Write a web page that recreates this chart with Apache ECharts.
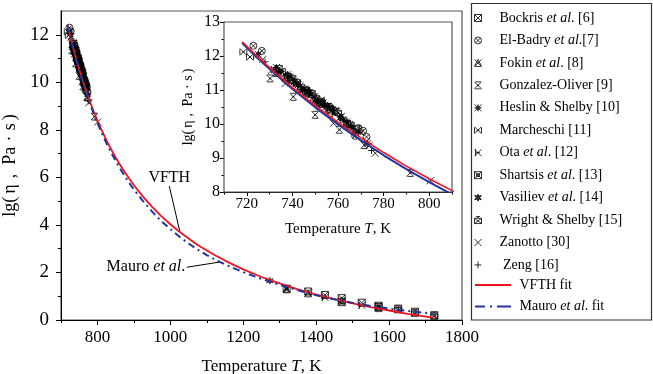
<!DOCTYPE html>
<html><head><meta charset="utf-8">
<script src="https://cdn.jsdelivr.net/npm/echarts@6/dist/echarts.min.js"></script>
<style>html,body{margin:0;padding:0;background:#fff}#c{width:653px;height:374px}</style>
</head><body><div id="c"></div>
<script>
// ---------------- data ----------------
const seriesNames = ['Bockris et al. [6]','El-Badry et al.[7]','Fokin et al. [8]','Gonzalez-Oliver [9]','Heslin & Shelby [10]','Marcheschi [11]','Ota et al. [12]','Shartsis et al. [13]','Vasiliev et al. [14]','Wright & Shelby [15]','Zanotto [30]','Zeng [16]'];
const fitNames = ['VFTH fit','Mauro et al. fit'];

const bockris   = [[734,11.62],[738,11.38],[742,11.2],[746,10.98],[752,10.65],[757,10.4],[764,10.0],[768,9.85],[1378,1.2],[1424,1.05],[1470,0.92],[1525,0.73],[1571,0.6],[1625,0.48],[1671,0.35],[1724,0.2]];
const elBadry   = [[722.9,12.3],[726.6,12.15],[767.5,9.65],[769,9.88],[771,9.8],[772.5,9.62]];
const fokin     = [[733,11.5],[737,11.35],[741,11.25],[743.4,11.12],[746.3,10.92],[749,10.75],[750.5,10.72],[752.9,10.6],[756,10.45],[759,10.4],[761.5,10.22],[764,10.02],[1319,1.29],[1378,1.12],[1470,0.82],[1571,0.5]];
const gonzalez  = [[730.2,11.34],[740.4,10.8],[750,10.27],[760.6,9.83],[771.5,9.38],[791.7,8.56]];
const heslin    = [[725,12.05],[733,11.66],[735,11.55],[738,11.45],[742.5,11.15],[745,11.02],[751,10.68],[753.5,10.62],[757.5,10.42],[761,10.2],[763.7,10.06],[766,9.92],[773,9.42]];
const marcheschi= [[718.5,12.12],[721.4,11.97],[735.5,11.55],[736.5,11.45],[745.5,11.02],[748,10.85],[752.5,10.7],[756,10.48],[762.5,10.1]];
const ota       = [[732,11.6],[734,11.52],[739,11.38],[744.5,11.0],[751.5,10.62],[755,10.52],[758.5,10.3],[765,9.98],[768.5,9.78],[770,9.75],[1424,0.95],[1525,0.62]];
const shartsis  = [[740,11.32],[744,11.05],[748.5,10.88],[753,10.6],[765.5,9.95],[1319,1.32],[1470,0.75],[1571,0.55]];
const vasiliev  = [[742,11.2],[747.5,10.95],[754,10.55],[755.5,10.55],[762,10.15],[1273,1.65]];
const wright    = [[739.5,11.3],[747,10.95],[750.5,10.78],[756.5,10.5],[760,10.35],[1625,0.45],[1671,0.3],[1724,0.18]];
const zanotto   = [[727,11.9],[730.8,11.58],[736.8,11.19],[758,10.02],[773.6,9.36],[776.3,9.14],[800.5,8.33]];
const zeng      = [[728,11.83],[766.8,9.73],[774.7,9.22]];

const fitT  = [718,725,730,740,750,760,770,780,790,800,810,820,830,840,850,862,875,887,900,925,950,975,1000,1025,1050,1075,1100,1125,1150,1175,1200,1250,1300,1350,1400,1450,1500,1550,1600,1650,1720];
const vfthV = [12.42,11.96,11.66,11.07,10.54,10.05,9.59,9.16,8.76,8.39,8.04,7.71,7.40,7.11,6.84,6.53,6.22,5.95,5.67,5.19,4.76,4.37,4.03,3.71,3.43,3.16,2.92,2.70,2.50,2.31,2.13,1.81,1.54,1.29,1.07,0.88,0.70,0.54,0.40,0.26,0.10];
const mauroV= [12.38,11.92,11.62,11.03,10.49,9.99,9.52,9.08,8.67,8.29,7.93,7.59,7.27,6.97,6.69,6.37,6.05,5.77,5.49,5.00,4.56,4.16,3.82,3.50,3.22,2.96,2.73,2.52,2.34,2.17,2.01,1.73,1.48,1.25,1.04,0.87,0.72,0.59,0.48,0.38,0.27];

const xMajorTicks = [800,1000,1200,1400,1600,1800];
const xMinorTicks = [700,900,1100,1300,1500,1700];
const yMajorTicks = [0,2,4,6,8,10,12];
const yMinorTicks = [1,3,5,7,9,11];
const insetXMajor = [720,740,760,780,800];
const insetXMinor = [710,730,750,770,790,810];
const insetYMajor = [8,9,10,11,12,13];
const insetYMinor = [8.5,9.5,10.5,11.5,12.5];

// annotation anchors (data units)
const vfthArrow  = [[997,5.64],[1026,3.72]];
const mauroArrow = [[1045,2.22],[1136,2.44]];

// ---------------- styling ----------------
const FONT = 'Liberation Serif';
const pointSets = [bockris,elBadry,fokin,gonzalez,heslin,marcheschi,ota,shartsis,vasiliev,wright,zanotto,zeng];
const symbols = [
  'path://M0,0H10V10H0Z M0,0L10,10 M10,0L0,10',
  'path://M0,5A5,5 0 1 1 10,5A5,5 0 1 1 0,5Z M1.5,1.5L8.5,8.5 M8.5,1.5L1.5,8.5',
  'path://M0,10L5,0L10,10 M0,0L10,10 M10,0L0,10 M1,10H9',
  'path://M0,0L10,10 M10,0L0,10 M1,0H9 M1,10H9 M3.5,5H6.5',
  'path://M0,0L10,10 M10,0L0,10 M5,0V10 M0,5H10 M5,1.5L8.5,5L5,8.5L1.5,5Z',
  'path://M0,0L10,10 M10,0L0,10 M0,1V9 M10,1V9 M3,5H7',
  'path://M0,0L10,10 M10,0L0,10 M1.5,0V10 M1.5,5H8',
  'path://M0,0H10V10H0Z M0,0L10,10 M10,0L0,10 M3,3H7V7H3Z',
  'path://M5,0L6.2,3.2L9.7,1.8L7.4,5L9.7,8.2L6.2,6.8L5,10L3.8,6.8L0.3,8.2L2.6,5L0.3,1.8L3.8,3.2Z',
  'path://M0,2.5H10V10H0Z M0,2.5L10,10 M10,2.5L0,10 M2,0H8 M5,0V2.5',
  'path://M0,0L10,10 M10,0L0,10',
  'path://M5,0V10 M0,5H10'
];
const fitIcons = ['path://M0,0H36V2H0Z', 'path://M0,0H10V2H0Z M15,0H17V2H15Z M22,0H36V2H22Z'];

function scatter(i, ax) {
  return {
    name: seriesNames[i], type: 'scatter', xAxisIndex: ax, yAxisIndex: ax,
    data: pointSets[i], symbol: symbols[i], symbolSize: 7, z: 3, silent: true,
    itemStyle: i === 8 ? {color:'#000', borderColor:'#000', borderWidth:0.6}
                       : {color:'rgba(0,0,0,0)', borderColor:'#000', borderWidth:1}
  };
}
const vfthData  = fitT.map((t,i)=>[t, vfthV[i]]);
const mauroData = fitT.map((t,i)=>[t, mauroV[i]]);

const italic = {fontStyle:'italic', fontFamily:FONT, color:'#000'};
function legendFmt(n) {
  if (n === 'Zeng [16]') return ' Zeng [16]';
  if (fitNames.indexOf(n) >= 0) return ' ' + n.replace('et al.', '{i|et al}.');
  return n.replace('et al.', '{i|et al}.');
}
const plainNum = v => String(v);
const axisBlack = {show:true, onZero:false, lineStyle:{color:'#000', width:1}};

// y-axis title "lg(η, Pa·s)" with the wide glyph spacing of the original
const yTitle = 'lg({e|η}{c|,} Pa{d|·}{s|s})';
function yTitleRich(fs, k) {
  const b = {fontSize:fs, fontFamily:FONT, color:'#000'};
  return {
    e: Object.assign({padding:[0, 8*k, 0, 4*k]}, b),
    c: Object.assign({padding:[0, 6*k, 0, 0]}, b),
    d: Object.assign({padding:[0, 7*k, 0, 7*k]}, b),
    s: Object.assign({padding:[0, 4*k, 0, 0]}, b)
  };
}

const option = {
  animation: false,
  backgroundColor: '#fff',
  textStyle: {fontFamily: FONT, color:'#000'},
  grid: [
    {left:61, top:11, width:401, height:309, show:true, borderColor:'#555', borderWidth:1.2, backgroundColor:'#fff', outerBoundsMode:'none', containLabel:false},
    {left:224, top:22, width:228, height:170, show:true, borderColor:'#555', borderWidth:1.2, backgroundColor:'#fff', z:5, outerBoundsMode:'none', containLabel:false}
  ],
  xAxis: [
    {gridIndex:0, type:'value', min:700, max:1800, position:'bottom',
     axisLine: axisBlack, splitLine:{show:false},
     axisTick:{customValues:xMajorTicks, length:5, lineStyle:{color:'#000'}},
     axisLabel:{customValues:xMajorTicks, formatter:plainNum, fontSize:17, fontFamily:FONT, color:'#000', margin:9},
     name:'Temperature {i|T}, K', nameLocation:'middle', nameGap:38,
     nameTextStyle:{fontSize:17, fontFamily:FONT, color:'#000', rich:{i:Object.assign({fontSize:17}, italic)}}},
    {gridIndex:0, type:'value', min:700, max:1800, position:'bottom',
     axisLine:{show:false}, splitLine:{show:false}, axisLabel:{show:false},
     axisTick:{customValues:xMinorTicks, length:3, lineStyle:{color:'#000'}}},
    {gridIndex:1, type:'value', min:710, max:810, position:'bottom',
     axisLine: axisBlack, splitLine:{show:false},
     axisTick:{customValues:insetXMajor, length:4, lineStyle:{color:'#000'}},
     axisLabel:{customValues:insetXMajor, formatter:plainNum, fontSize:15, fontFamily:FONT, color:'#000', margin:5},
     name:'Temperature {i|T}, K', nameLocation:'middle', nameGap:30,
     nameTextStyle:{fontSize:15, fontFamily:FONT, color:'#000', rich:{i:Object.assign({fontSize:15}, italic)}}},
    {gridIndex:1, type:'value', min:710, max:810, position:'bottom',
     axisLine:{show:false}, splitLine:{show:false}, axisLabel:{show:false},
     axisTick:{customValues:insetXMinor, length:2.5, lineStyle:{color:'#000'}}}
  ],
  yAxis: [
    {gridIndex:0, type:'value', min:0, max:13, position:'left',
     axisLine: axisBlack, splitLine:{show:false},
     axisTick:{customValues:yMajorTicks, length:5, lineStyle:{color:'#000'}},
     axisLabel:{customValues:yMajorTicks, formatter:plainNum, fontSize:19, fontFamily:FONT, color:'#000', margin:12},
     name:yTitle, nameLocation:'middle', nameGap:37,
     nameTextStyle:{fontSize:18, fontFamily:FONT, color:'#000', rich:yTitleRich(18, 0.75)}},
    {gridIndex:0, type:'value', min:0, max:13, position:'left',
     axisLine:{show:false}, splitLine:{show:false}, axisLabel:{show:false},
     axisTick:{customValues:yMinorTicks, length:3, lineStyle:{color:'#000'}}},
    {gridIndex:1, type:'value', min:8, max:13, position:'left',
     axisLine: axisBlack, splitLine:{show:false},
     axisTick:{customValues:insetYMajor, length:4, lineStyle:{color:'#000'}},
     axisLabel:{customValues:insetYMajor, formatter:plainNum, fontSize:16, fontFamily:FONT, color:'#000', margin:4},
     name:yTitle, nameLocation:'middle', nameGap:29,
     nameTextStyle:{fontSize:14, fontFamily:FONT, color:'#000', rich:yTitleRich(14, 0.5)}},
    {gridIndex:1, type:'value', min:8, max:13, position:'left',
     axisLine:{show:false}, splitLine:{show:false}, axisLabel:{show:false},
     axisTick:{customValues:insetYMinor, length:2.5, lineStyle:{color:'#000'}}}
  ],
  legend: [
    {data: seriesNames, orient:'vertical', left:474, top:10.5, padding:0,
     itemWidth:33, itemHeight:7, itemGap:7.45, selectedMode:false,
     itemStyle:{borderWidth:1},
     formatter: legendFmt,
     textStyle:{fontFamily:FONT, fontSize:14, color:'#000', lineHeight:15,
       rich:{i:Object.assign({fontSize:14, lineHeight:15}, italic)}}},
    {data: fitNames.map((n,i)=>({name:n, icon:fitIcons[i]})), orient:'vertical', left:475, top:277.5, padding:0,
     itemWidth:36, itemHeight:14, itemGap:6.5, selectedMode:false,
     itemStyle:{borderWidth:0},
     formatter: legendFmt,
     textStyle:{fontFamily:FONT, fontSize:14, color:'#000', lineHeight:15,
       rich:{i:Object.assign({fontSize:14, lineHeight:15}, italic)}}}
  ],
  graphic: [
    {type:'rect', shape:{x:471.5, y:3.5, width:180, height:316.5},
     style:{fill:'none', stroke:'#333', lineWidth:1.2}, z:-1, silent:true}
  ],
  series: [
    ...seriesNames.map((n,i)=>scatter(i,0)),
    {name:'VFTH fit', type:'line', xAxisIndex:0, yAxisIndex:0, data:vfthData, symbol:'none',
     z:5, silent:true,
     lineStyle:{color:'#f0141e', width:1.8},
     itemStyle:{color:'#f0141e'},
     markLine:{silent:true, symbol:['none','arrow'], symbolSize:[0,9], label:{show:false},
       lineStyle:{color:'#000', width:1, type:'solid'},
       data:[
         [{coord:vfthArrow[0]},{coord:vfthArrow[1]}],
         [{coord:mauroArrow[0]},{coord:mauroArrow[1]}]
       ]},
     markPoint:{silent:true, symbol:'circle', symbolSize:1, itemStyle:{color:'rgba(0,0,0,0)'},
       data:[
         {name:'VFTH', coord:vfthArrow[0], label:{show:true, position:'top', distance:0, formatter:'VFTH',
           fontFamily:FONT, fontSize:16, color:'#000'}},
         {name:'Mauro', coord:mauroArrow[0], label:{show:true, position:'left', distance:1,
           formatter:'Mauro {i|et al}.', fontFamily:FONT, fontSize:16, color:'#000',
           rich:{i:Object.assign({fontSize:16}, italic)}}}
       ]}},
    {name:'Mauro et al. fit', type:'line', xAxisIndex:0, yAxisIndex:0, data:mauroData, symbol:'none',
     z:6, silent:true,
     lineStyle:{color:'#2233a0', width:2, type:[7,4,2,4]},
     itemStyle:{color:'#2233a0'}},
    ...seriesNames.map((n,i)=>Object.assign(scatter(i,2), {z:7})),
    {name:'Mauro et al. fit', type:'line', xAxisIndex:2, yAxisIndex:2, data:mauroData, symbol:'none',
     z:8, silent:true,
     lineStyle:{color:'#2233a0', width:2}, itemStyle:{color:'#2233a0'}},
    {name:'VFTH fit', type:'line', xAxisIndex:2, yAxisIndex:2, data:vfthData, symbol:'none',
     z:9, silent:true,
     lineStyle:{color:'#f0141e', width:1.6}, itemStyle:{color:'#f0141e'}}
  ]
};
const chart = echarts.init(document.getElementById('c'));
chart.setOption(option);
</script>
</body></html>
